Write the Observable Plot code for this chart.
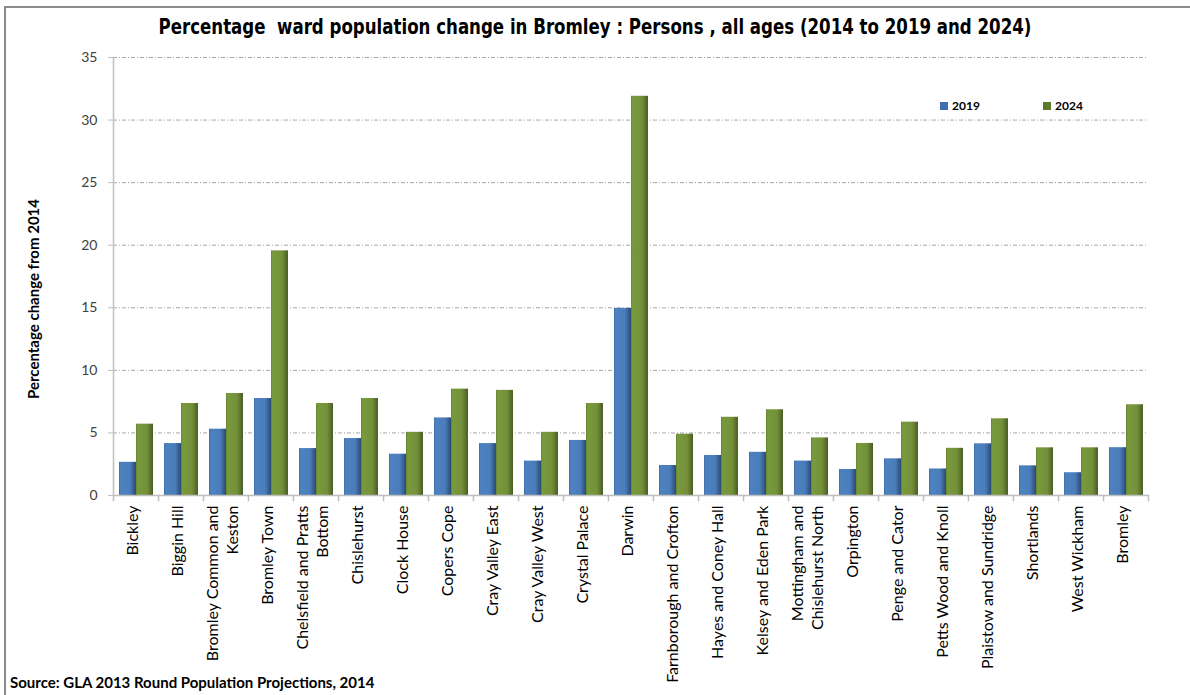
<!DOCTYPE html>
<html>
<head>
<meta charset="utf-8">
<script src="https://cdn.jsdelivr.net/npm/d3@7"></script>
<script src="https://cdn.jsdelivr.net/npm/@observablehq/plot@0.6"></script>
<style>
  html, body { margin: 0; padding: 0; background: #fff; }
  #wrap { position: relative; width: 1190px; height: 695px; overflow: hidden; background: #fff; font-family: Lato, "Open Sans", sans-serif; }
  #wrap svg { position: absolute; left: 0; top: 0; }
  #border { position: absolute; left: 4px; top: 6px; width: 1200px; height: 700px; border-left: 2px solid #8c8c8c; border-top: 2px solid #8c8c8c; }
  #title { position: absolute; left: 0; width: 1190px; top: 15px; text-align: center; }
  #title span { display: inline-block; transform: scaleX(0.88); transform-origin: 50% 50%; white-space: nowrap; font-family: "DejaVu Sans Condensed", "Liberation Sans", sans-serif; font-weight: bold; font-size: 21px; color: #000; }
  #ylabel { position: absolute; left: 33px; top: 299px; transform: translate(-50%, -50%) rotate(-90deg); white-space: nowrap; font-weight: bold; font-size: 15px; color: #000; }
  #legend { position: absolute; left: 940px; top: 98px; font-weight: bold; font-size: 12px; color: #000; }
  #legend span.item { position: absolute; white-space: nowrap; }
  #legend i { display: inline-block; width: 8px; height: 8px; margin-right: 4px; vertical-align: 0px; }
  #caption { position: absolute; left: 10px; top: 673px; font-weight: bold; font-size: 15px; color: #000; white-space: nowrap; }
</style>
</head>
<body>
<div id="wrap">
  <div id="border"></div>
  <div id="title"><span>Percentage&nbsp; ward population change in Bromley : Persons , all ages (2014 to 2019 and 2024)</span></div>
  <div id="ylabel">Percentage change from 2014</div>
  <div id="legend"></div>
  <div id="caption">Source: GLA 2013 Round Population Projections, 2014</div>
</div>
<script>
// ---- data ----
const wards = [
  "Bickley", "Biggin Hill", "Bromley Common and Keston", "Bromley Town",
  "Chelsfield and Pratts Bottom", "Chislehurst", "Clock House", "Copers Cope",
  "Cray Valley East", "Cray Valley West", "Crystal Palace", "Darwin",
  "Farnborough and Crofton", "Hayes and Coney Hall", "Kelsey and Eden Park",
  "Mottingham and Chislehurst North", "Orpington", "Penge and Cator",
  "Petts Wood and Knoll", "Plaistow and Sundridge", "Shortlands", "West Wickham", "Bromley"
];
const wardLabels = [
  "Bickley", "Biggin Hill", "Bromley Common and\nKeston", "Bromley Town",
  "Chelsfield and Pratts\nBottom", "Chislehurst", "Clock House", "Copers Cope",
  "Cray Valley East", "Cray Valley West", "Crystal Palace", "Darwin",
  "Farnborough and Crofton", "Hayes and Coney Hall", "Kelsey and Eden Park",
  "Mottingham and\nChislehurst North", "Orpington", "Penge and Cator",
  "Petts Wood and Knoll", "Plaistow and Sundridge", "Shortlands", "West Wickham", "Bromley"
];
const series = ["2019", "2024"];
const values2019 = [2.65, 4.15, 5.3, 7.75, 3.75, 4.55, 3.3, 6.2, 4.15, 2.75, 4.4, 14.95,
                    2.4, 3.2, 3.45, 2.75, 2.08, 2.93, 2.12, 4.13, 2.37, 1.82, 3.82];
const values2024 = [5.7, 7.35, 8.15, 19.55, 7.35, 7.75, 5.05, 8.5, 8.4, 5.05, 7.35, 31.9,
                    4.9, 6.25, 6.85, 4.6, 4.16, 5.86, 3.77, 6.13, 3.81, 3.81, 7.25];
const yTicks = [0, 5, 10, 15, 20, 25, 30, 35];

// ---- build table ----
const rows2019 = wards.map((w, i) => ({ward: w, series: series[0], value: values2019[i]}));
const rows2024 = wards.map((w, i) => ({ward: w, series: series[1], value: values2024[i]}));
const labelOf = new Map(wards.map((w, i) => [w, wardLabels[i]]));

const axisGray = "#bfbfbf";

const chart = Plot.plot({
  width: 1190,
  height: 695,
  marginLeft: 109,
  marginRight: 39,
  marginTop: 57,
  marginBottom: 200,
  style: {background: "transparent", fontFamily: "Lato, 'Open Sans', sans-serif", overflow: "visible"},
  fx: {domain: wards, padding: 0, label: null, axis: null},
  x: {domain: series, paddingInner: 0, paddingOuter: 0.26, axis: null},
  y: {domain: [0, 35], axis: null},
  marks: [
    Plot.ruleY(yTicks.filter(d => d > 0), {stroke: "#a6a6a6", strokeWidth: 1, strokeDasharray: "4,2,1,2"}),
    Plot.barY(rows2019, {fx: "ward", x: "series", y: "value", fill: "url(#g2019)"}),
    Plot.barY(rows2024, {fx: "ward", x: "series", y: "value", fill: "url(#g2024)"}),
    Plot.ruleY([0], {stroke: axisGray, strokeWidth: 1.5}),
    Plot.frame({anchor: "left", stroke: axisGray, strokeWidth: 1.5, insetTop: 438, insetBottom: -5}),
    Plot.frame({anchor: "left", stroke: axisGray, strokeWidth: 1.5, facetAnchor: "left"}),
    Plot.frame({anchor: "right", stroke: axisGray, strokeWidth: 1.5, insetTop: 438, insetBottom: -5, facetAnchor: "right"}),
    Plot.axisY({ticks: yTicks, tickSize: 5, tickPadding: 11, stroke: axisGray, color: "#404040", fontSize: 14, label: null, tickFormat: d => String(d)}),
    Plot.axisFx({anchor: "bottom", tickSize: 0, tickPadding: 10, tickRotate: -90, fontSize: 16, color: "#000", label: null, dx: -4, tickFormat: w => labelOf.get(w), lineHeight: 1.25})
  ]
});

// gradients for Excel-like bar shading
const svg = d3.select(chart);
const defs = svg.insert("defs", ":first-child");
function grad(id, stops) {
  const g = defs.append("linearGradient").attr("id", id).attr("x1", "0").attr("x2", "1").attr("y1", "0").attr("y2", "0");
  stops.forEach(([o, c]) => g.append("stop").attr("offset", o).attr("stop-color", c));
}
grad("g2019", [["0%", "#3f6ea6"], ["10%", "#4d81c0"], ["65%", "#4a7dba"], ["100%", "#2a4b75"]]);
grad("g2024", [["0%", "#67812f"], ["10%", "#789a3c"], ["65%", "#74903a"], ["100%", "#485d24"]]);

document.getElementById("wrap").insertBefore(chart, document.getElementById("border"));

// legend
const legend = d3.select("#legend");
const legendColors = ["#3f6fae", "#5c7a2c"];
const legendX = [0, 103];
series.forEach((s, i) => {
  const item = legend.append("span").attr("class", "item").style("left", legendX[i] + "px").style("top", "0px");
  item.append("i").style("background", legendColors[i]);
  item.append("span").text(s);
});
</script>
</body>
</html>
